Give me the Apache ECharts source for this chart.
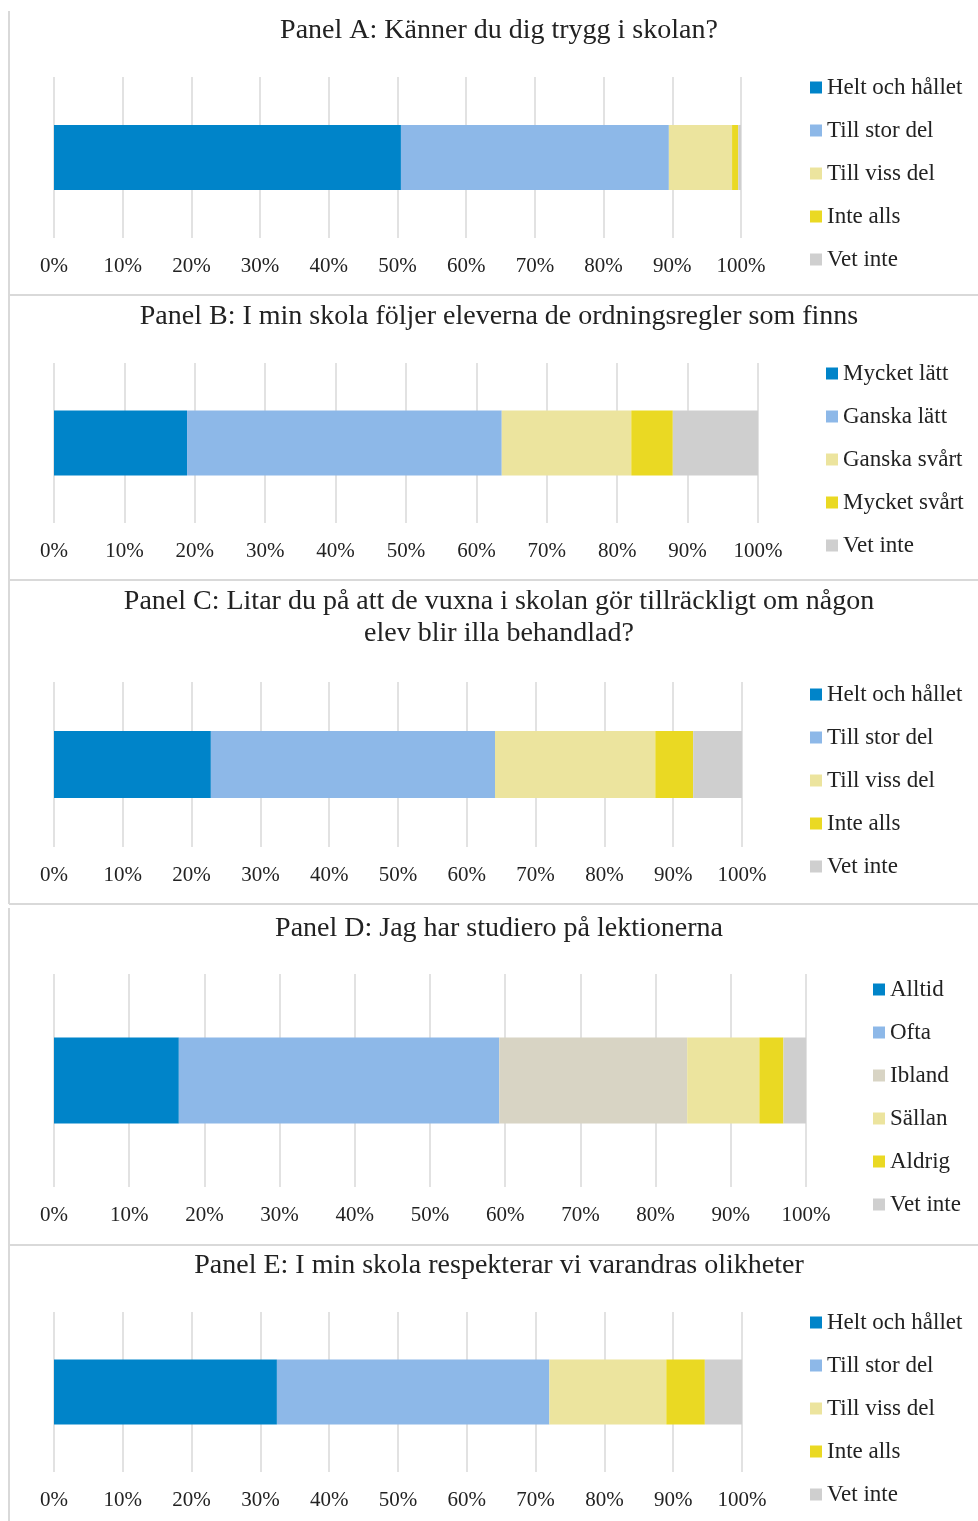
<!DOCTYPE html>
<html>
<head>
<meta charset="utf-8">
<script src="https://cdn.jsdelivr.net/npm/echarts@6/dist/echarts.min.js"></script>
<style>
html,body{margin:0;padding:0;background:#fff;}
#chart{width:978px;height:1521px;}
</style>
</head>
<body>
<div id="chart"></div>
<script>
// ---- Data ----
const tickLabels = ['0%','10%','20%','30%','40%','50%','60%','70%','80%','90%','100%'];

const titleA = 'Panel A: Känner du dig trygg i skolan?';
const catsA = ['Helt och hållet','Till stor del','Till viss del','Inte alls','Vet inte'];
const valsA = [50.5, 39.0, 9.2, 0.9, 0.4];

const titleB = 'Panel B: I min skola följer eleverna de ordningsregler som finns';
const catsB = ['Mycket lätt','Ganska lätt','Ganska svårt','Mycket svårt','Vet inte'];
const valsB = [18.9, 44.7, 18.4, 5.9, 12.1];

const titleC = 'Panel C: Litar du på att de vuxna i skolan gör tillräckligt om någon\nelev blir illa behandlad?';
const catsC = ['Helt och hållet','Till stor del','Till viss del','Inte alls','Vet inte'];
const valsC = [22.8, 41.3, 23.3, 5.5, 7.1];

const titleD = 'Panel D: Jag har studiero på lektionerna';
const catsD = ['Alltid','Ofta','Ibland','Sällan','Aldrig','Vet inte'];
const valsD = [16.6, 42.6, 25.0, 9.6, 3.2, 3.0];

const titleE = 'Panel E: I min skola respekterar vi varandras olikheter';
const catsE = ['Helt och hållet','Till stor del','Till viss del','Inte alls','Vet inte'];
const valsE = [32.4, 39.6, 17.0, 5.6, 5.4];

// ---- Styles ----
const FONT = '"Liberation Serif", "DejaVu Serif", serif';
const colors5 = ['#0084C9', '#8DB8E8', '#ECE49E', '#EAD923', '#CFCFCF'];
const colorsD = ['#0084C9', '#8DB8E8', '#D8D4C4', '#ECE49E', '#EAD923', '#CFCFCF'];

const panels = [
  {title: titleA, cats: catsA, vals: valsA, colors: colors5, grid:{left:54, right:237, top:77, height:161}, bar:65, titleY:31, legendX:810, legendY:87},
  {title: titleB, cats: catsB, vals: valsB, colors: colors5, grid:{left:54, right:220, top:363, height:160}, bar:65, titleY:317, legendX:826, legendY:373},
  {title: titleC, cats: catsC, vals: valsC, colors: colors5, grid:{left:54, right:236, top:682, height:165}, bar:67, titleY:618, legendX:810, legendY:694},
  {title: titleD, cats: catsD, vals: valsD, colors: colorsD, grid:{left:54, right:172, top:974, height:213}, bar:86, titleY:929, legendX:873, legendY:989},
  {title: titleE, cats: catsE, vals: valsE, colors: colors5, grid:{left:54, right:236, top:1312, height:160}, bar:65, titleY:1266, legendX:810, legendY:1322}
];

const grids = [], xAxes = [], yAxes = [], series = [], legends = [], graphics = [];

panels.forEach((p, i) => {
  grids.push(Object.assign({containLabel:false}, p.grid));
  xAxes.push({
    type:'value', gridIndex:i, min:0, max:100, interval:10,
    axisLine:{show:false}, axisTick:{show:false},
    splitLine:{show:true, lineStyle:{color:'#D9D9D9', width:1.5}},
    axisLabel:{margin:18, color:'#222', fontFamily:FONT, fontSize:21,
      formatter:(v)=>tickLabels[Math.round(v/10)]}
  });
  yAxes.push({
    type:'category', gridIndex:i, data:[''],
    axisLine:{show:false}, axisTick:{show:false}, axisLabel:{show:false}
  });
  p.cats.forEach((c, j) => {
    series.push({
      type:'bar', name:c, stack:'s'+i, xAxisIndex:i, yAxisIndex:i,
      barWidth:p.bar, data:[p.vals[j]],
      itemStyle:{color:p.colors[j]}, emphasis:{disabled:true},
      animation:false
    });
  });
  legends.push({
    orient:'vertical', left:p.legendX, top:p.legendY - 11, padding:0,
    itemWidth:12, itemHeight:12, itemGap:20, icon:'rect',
    data:p.cats.map((c, j)=>({name:c, itemStyle:{color:p.colors[j]}})),
    textStyle:{fontFamily:FONT, fontSize:23, color:'#222', lineHeight:22},
    selectedMode:false
  });
  graphics.push({
    type:'text', x:499, y:p.titleY,
    style:{text:p.title, fontFamily:FONT, fontSize:28, fill:'#222',
      textAlign:'center', textVerticalAlign:'middle', lineHeight:32}
  });
});

// panel frame lines
const lineStyle = {stroke:'#D9D9D9', lineWidth:2};
[[11,904],[908,1521]].forEach(([a,b])=>{
  graphics.push({type:'line', shape:{x1:9,y1:a,x2:9,y2:b}, style:lineStyle});
});
[295,580,904,1245].forEach(y=>{
  graphics.push({type:'line', shape:{x1:9,y1:y,x2:978,y2:y}, style:lineStyle});
});

const chart = echarts.init(document.getElementById('chart'), null, {renderer:'canvas'});
chart.setOption({
  backgroundColor:'#fff',
  animation:false,
  grid:grids, xAxis:xAxes, yAxis:yAxes, series:series, legend:legends,
  graphic:graphics
});
</script>
</body>
</html>
